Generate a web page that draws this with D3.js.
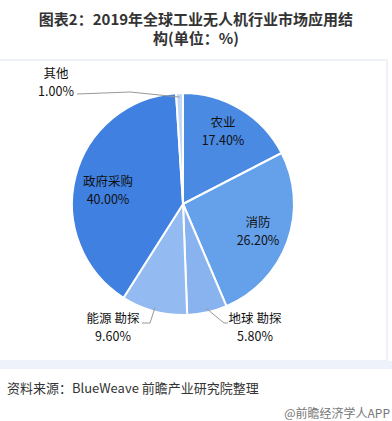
<!DOCTYPE html>
<html>
<head>
<meta charset="utf-8">
<script src="https://cdn.jsdelivr.net/npm/d3@7"></script>
<style>
  body { margin: 0; background: #fff; }
  svg { display: block; font-family: "Noto Sans CJK SC", "Noto Sans", sans-serif; }
</style>
</head>
<body>
<svg id="chart" width="392" height="421"></svg>
<script>
// data (clockwise from 12 o'clock)
var categories = ["农业", "消防", "地球 勘探", "能源 勘探", "政府采购", "其他"];
var values = [17.4, 26.2, 5.8, 9.6, 40.0, 1.0];
var colors = ["#4a8ae2", "#65a0ea", "#88b3ef", "#93bbf1", "#3f80e0", "#c2d8f6"];

var svg = d3.select("#chart");

// frame around chart area
svg.append("rect").attr("x", -2).attr("y", 60).attr("width", 389).attr("height", 301)
  .style("fill", "#fff").style("stroke", "#e9edf4").style("stroke-width", 1.5);
svg.append("rect").attr("x", 0).attr("y", 361).attr("width", 392).attr("height", 8)
  .style("fill", "#eef2fa");

// title
var title = svg.append("text").attr("text-anchor", "middle")
  .style("font-size", "15px").style("font-weight", "bold").style("fill", "#333");
title.append("tspan").attr("x", 196).attr("y", 25).text("图表2：2019年全球工业无人机行业市场应用结");
title.append("tspan").attr("x", 196).attr("y", 44).text("构(单位：%)");

var cx = 183, cy = 204, r = 111;
var g = svg.append("g").attr("transform", "translate(" + cx + "," + cy + ")");

var pie = d3.pie().sort(null).value(function(d) { return d; });
var arcs = pie(values);
var arc = d3.arc().innerRadius(0).outerRadius(r);

g.selectAll("path").data(arcs).enter().append("path")
  .attr("d", arc)
  .style("fill", function(d, i) { return colors[i]; })
  .style("stroke", "#fff").style("stroke-width", 2);

// label positions (inside labels at a fraction of radius, outside ones placed by hand)
var labelPos = [
  { x: 223, y: 127 },
  { x: 258, y: 227 },
  { x: 255, y: 323 },
  { x: 113, y: 323 },
  { x: 108, y: 186 },
  { x: 56, y: 78 }
];

var labels = svg.selectAll(".lbl").data(arcs).enter().append("text")
  .attr("class", "lbl").attr("text-anchor", "middle")
  .style("font-size", "12.5px").style("fill", "#111");
labels.append("tspan")
  .attr("x", function(d, i) { return labelPos[i].x; })
  .attr("y", function(d, i) { return labelPos[i].y; })
  .text(function(d, i) { return categories[i]; });
labels.append("tspan")
  .attr("x", function(d, i) { return labelPos[i].x; })
  .attr("y", function(d, i) { return labelPos[i].y + 18; })
  .text(function(d) { return d.value.toFixed(2) + "%"; });

// leader lines for the small outside slices
var lineArc = d3.arc().innerRadius(r - 4).outerRadius(r - 4);
function edgePoint(d) {
  var c = lineArc.centroid(d);
  return [cx + c[0], cy + c[1]];
}
var leaders = [
  { i: 5, pts: [[77, 94], [130, 92]] },
  { i: 3, pts: [[142, 323], [150, 323]] },
  { i: 2, pts: [[228, 323], [224, 323]] }
];
leaders.forEach(function(l) {
  var p = edgePoint(arcs[l.i]);
  var pts = l.i === 2 ? [p, l.pts[1], l.pts[0]] : l.pts.concat([p]);
  svg.append("path").attr("d", d3.line()(pts))
    .style("fill", "none").style("stroke", "#999").style("stroke-width", 1);
});

// source
svg.append("text").attr("x", 7).attr("y", 393)
  .style("font-size", "13px").style("fill", "#333")
  .text("资料来源：BlueWeave 前瞻产业研究院整理");
svg.append("text").attr("x", 390).attr("y", 418).attr("text-anchor", "end")
  .style("font-size", "12px").style("fill", "#777")
  .text("@前瞻经济学人APP");
</script>
</body>
</html>
